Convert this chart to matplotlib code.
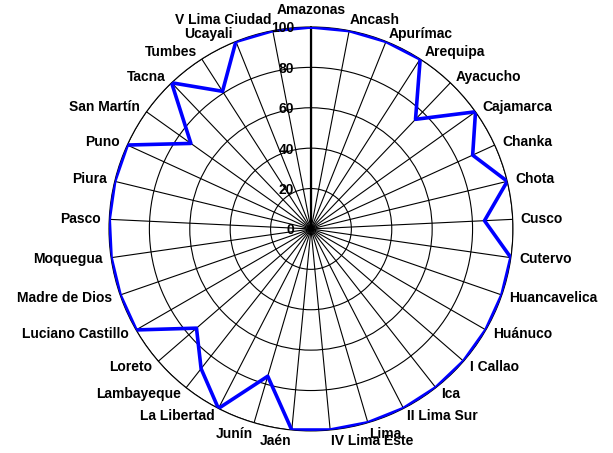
import numpy as np
import matplotlib
matplotlib.use('Agg')
import matplotlib.pyplot as plt

plt.rcParams['font.family'] = ['Liberation Sans', 'DejaVu Sans']
plt.rcParams['font.weight'] = 'bold'

regiones = ['Amazonas', 'Ancash', 'Apurímac', 'Arequipa', 'Ayacucho', 'Cajamarca',
            'Chanka', 'Chota', 'Cusco', 'Cutervo', 'Huancavelica', 'Huánuco',
            'I Callao', 'Ica', 'II Lima Sur', 'Lima', 'IV Lima Este', 'Jaén',
            'Junín', 'La Libertad', 'Lambayeque', 'Loreto', 'Luciano Castillo',
            'Madre de Dios', 'Moquegua', 'Pasco', 'Piura', 'Puno', 'San Martín',
            'Tacna', 'Tumbes', 'Ucayali', 'V Lima Ciudad']
valores = [100, 100, 100, 100, 75, 100, 88, 100, 86, 100, 100, 100,
           100, 100, 100, 100, 100, 100, 76, 100, 88, 75, 100,
           100, 100, 100, 100, 100, 73, 100, 81, 100, 100]
niveles = [0, 20, 40, 60, 80, 100]

n = len(regiones)
ang = np.arange(n) * 2 * np.pi / n

fig = plt.figure(figsize=(6.13, 4.53), dpi=100)
ax = fig.add_axes([0.1778, 0.0486, 0.659, 0.892], projection='polar')
ax.set_theta_zero_location('N')
ax.set_theta_direction(-1)
ax.set_ylim(0, 100)
ax.set_xticks(ang)
ax.set_xticklabels([])
ax.set_yticks(niveles[1:])
ax.set_yticklabels([])
ax.grid(True, color='black', linewidth=0.8)
ax.spines['polar'].set_color('black')
ax.spines['polar'].set_linewidth(0.8)
ax.tick_params(length=0)

# eje principal mas grueso
ax.plot([0, 0], [0, 100], color='black', linewidth=1.6, zorder=3)

ax.plot(np.append(ang, ang[0]), valores + valores[:1], color='#0000ff',
        linewidth=2.6, zorder=4)

for v in niveles:
    ax.annotate(str(v), xy=(0, v), xytext=(-12, -1), textcoords='offset points',
                ha='right', va='center', fontsize=10, fontweight='bold', zorder=5)

for i, (a, nombre) in enumerate(zip(ang, regiones)):
    s, c = np.sin(a), np.cos(a)
    ha = 'center' if abs(s) < 0.05 else ('left' if s > 0 else 'right')
    if c > 0.95:
        va = 'bottom'
    elif c < -0.95:
        va = 'top'
    else:
        va = 'center'
    r = 105 if i == 0 else (104 if va == 'center' else 102)
    ax.text(a, r, nombre, ha=ha, va=va, fontsize=10, fontweight='bold')

fig.savefig('out.png', dpi=100)
